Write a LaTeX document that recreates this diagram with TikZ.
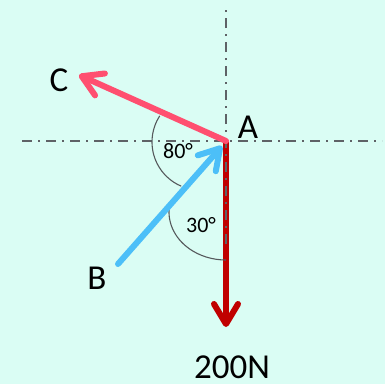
\documentclass[tikz,border=0pt]{standalone}
\usepackage{fontspec}
\setmainfont{Carlito}
\usetikzlibrary{arrows.meta}
\definecolor{bgmint}{HTML}{DAFDF4}
\definecolor{cred}{HTML}{FF4F70}
\definecolor{bblue}{HTML}{4CBFF8}
\definecolor{dred}{HTML}{C00000}
\definecolor{axisgrey}{HTML}{5E6266}
\definecolor{arcgrey}{HTML}{55595C}
\tikzset{
  barb/.style={-{Straight Barb[length=20pt,width=24pt,round]}},
  force/.style={line width=6pt,line cap=round,barb},
  axis/.style={axisgrey,line width=2.5pt,dash pattern=on 10pt off 6pt on 2pt off 6pt},
  anglearc/.style={arcgrey,line width=1.1pt},
  biglabel/.style={inner sep=0pt,font=\fontsize{35}{42}\selectfont},
  anglelabel/.style={inner sep=0pt,font=\fontsize{22}{26}\selectfont},
}
\begin{document}
\begin{tikzpicture}[x=1pt,y=-1pt]
\fill[bgmint] (0,0) rectangle (385,384);
\useasboundingbox (0,0) rectangle (385,384);
% coordinates
\coordinate (A) at (226,141);
\coordinate (Dtip) at (226,327);
\coordinate (Ctip) at (79,75);
\coordinate (Bend) at (118,264);
\coordinate (Btip) at (222,146);
\coordinate (Hl) at (22,141);
\coordinate (Hr) at (382,141);
\coordinate (Vb) at (226,244);
\coordinate (Vt) at (226,6);
% downward force
\draw[force,dred,line cap=butt] (A) -- (Dtip);
% axes
\draw[axis] (Hl) -- (Hr);
\draw[axis] (Vb) -- (Vt);
% angle arcs
\draw[anglearc] (200,142) ++(213:48) arc[start angle=213,end angle=113,radius=48];
\draw[anglearc] (226,212) ++(190:57 and 48) arc[start angle=190,end angle=90,x radius=57,y radius=48];
% forces
\draw[force,cred] (A) -- (Ctip);
\draw[force,bblue] (Bend) -- (Btip);
% labels
\node[biglabel] (lC) at (59,80) {C};
\node[biglabel] (lA) at (248,127) {A};
\node[biglabel] (lB) at (97,278) {B};
\node[biglabel] (lN) at (232,367) {200N};
\node[anglelabel] (l80) at (178,151) {80°};
\node[anglelabel] (l30) at (201,225) {30°};
\end{tikzpicture}
\end{document}
